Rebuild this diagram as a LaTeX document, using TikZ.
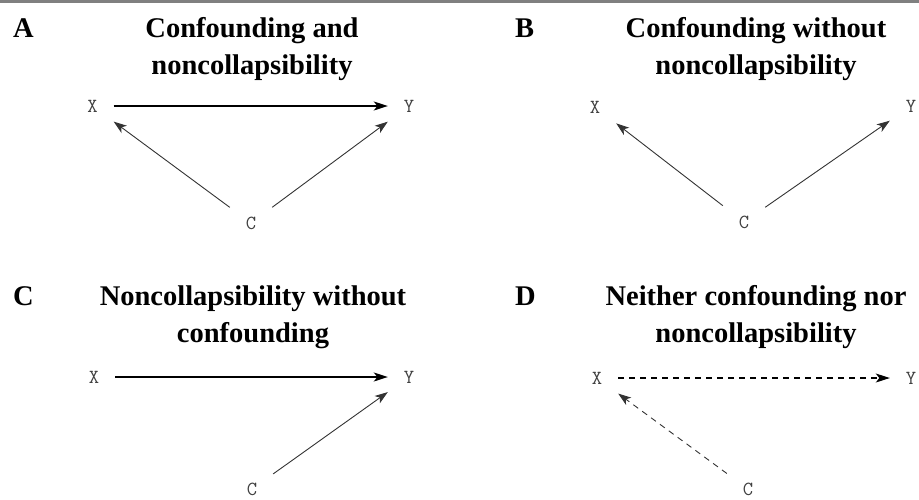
\documentclass[tikz,border=0pt]{standalone}
\usepackage{fontspec}
\setmainfont{Liberation Serif}
\usetikzlibrary{arrows.meta}

\begin{document}
\begin{tikzpicture}[x=1pt, y=-1pt,
        varnode/.style={font=\ttfamily\fontsize{20}{20}\selectfont, text=black!75,
            minimum width=42pt, minimum height=42pt, inner sep=0pt},
        heading/.style={font=\bfseries\fontsize{28.5}{37}\selectfont, align=center, anchor=base},
        panel/.style={font=\bfseries\fontsize{28.5}{37}\selectfont, anchor=base west, inner sep=0pt},
        direct/.style={-{Stealth[length=14pt,width=9pt,inset=3.5pt]}, line width=1.4pt},
        backdoor/.style={-{Stealth[length=13pt,width=9pt,inset=3.5pt]}, line width=0.9pt, black!80},
        weak/.style={dash pattern=on 6pt off 5pt}]
    \useasboundingbox (0,0) rectangle (919,499);
    \fill[black!50] (0,0) rectangle (919,3);

    % A
    \node[panel] (labA) at (13,37) {A};
    \node[heading] (headA) at (252,74) {Confounding and\\noncollapsibility};
    \node[varnode] (XA) at (92.5,106) {X};
    \node[varnode] (YA) at (409,106) {Y};
    \node[varnode] (CA) at (251,223) {C};
    \draw[direct] (XA) -- (YA);
    \draw[backdoor] (CA) -- (XA);
    \draw[backdoor] (CA) -- (YA);

    % B
    \node[panel] (labB) at (515,37) {B};
    \node[heading] (headB) at (756,74) {Confounding without\\noncollapsibility};
    \node[varnode] (XB) at (595,107) {X};
    \node[varnode] (YB) at (911,106) {Y};
    \node[varnode] (CB) at (744,222) {C};
    \draw[backdoor] (CB) -- (XB);
    \draw[backdoor] (CB) -- (YB);

    % C
    \node[panel] (labC) at (13,305) {C};
    \node[heading] (headC) at (253,342) {Noncollapsibility without\\confounding};
    \node[varnode] (XC) at (94,377) {X};
    \node[varnode] (YC) at (409,377) {Y};
    \node[varnode] (CC) at (252,489) {C};
    \draw[direct] (XC) -- (YC);
    \draw[backdoor] (CC) -- (YC);

    % D
    \node[panel] (labD) at (515,305) {D};
    \node[heading] (headD) at (756,342) {Neither confounding nor\\noncollapsibility};
    \node[varnode] (XD) at (597,378) {X};
    \node[varnode] (YD) at (911,378) {Y};
    \node[varnode] (CD) at (748,489) {C};
    \draw[direct, weak, line width=1.1pt] (XD) -- (YD);
    \draw[backdoor, weak] (CD) -- (XD);
\end{tikzpicture}
\end{document}
